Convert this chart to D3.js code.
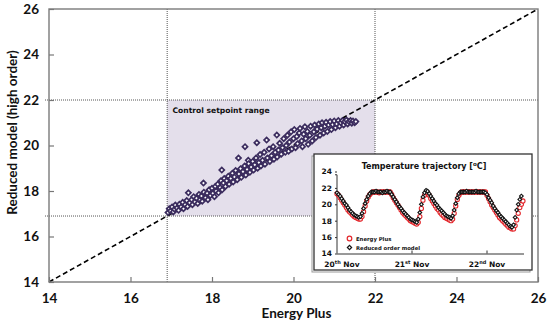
<!DOCTYPE html>
<html><head><meta charset="utf-8">
<script src="https://cdn.jsdelivr.net/npm/d3@7"></script>
<style>
html,body{margin:0;padding:0;background:#fff;}
svg{display:block;}
</style></head>
<body>
<svg id="chart" width="550" height="326"></svg>
<script>
// ---------- data ----------
const axisTicks = [14, 16, 18, 20, 22, 24, 26];
const setpointRange = [16.9, 22];
const xLabel = "Energy Plus";
const yLabel = "Reduced model (high order)";
const regionLabel = "Control setpoint range";

// scatter: Energy Plus (x) vs reduced model (y)
const scatterEnergyPlus = [
 16.92,16.95,16.98,17.02,17.05,17.08,17.10,17.14,17.18,17.20,17.24,17.28,17.30,17.34,17.38,17.42,17.40,17.45,
 17.50,17.52,17.55,17.58,17.62,17.65,17.68,17.70,17.74,17.76,17.79,17.80,17.84,17.88,17.90,17.93,17.96,18.00,18.02,18.06,18.08,18.10,18.14,18.16,18.20,18.22,
 18.24,18.25,18.28,18.30,18.33,18.36,18.40,18.42,18.46,18.50,18.52,18.55,18.58,18.62,18.65,18.66,18.70,18.72,18.76,18.80,18.81,18.83,18.86,18.89,18.90,18.93,18.96,19.00,
 19.02,19.05,19.08,19.10,19.12,19.15,19.18,19.20,19.24,19.28,19.30,19.34,19.36,19.40,19.42,19.46,19.50,19.52,19.55,19.59,19.60,19.63,19.66,19.70,19.73,19.76,19.80,19.82,
 19.85,19.88,19.90,19.94,19.96,20.00,20.02,20.05,20.08,20.10,20.14,20.16,20.20,20.22,20.25,20.28,20.30,20.34,20.36,20.40,20.42,20.46,20.50,20.52,20.55,20.58,
 20.62,20.65,20.68,20.70,20.74,20.77,20.80,20.83,20.86,20.90,20.93,20.96,21.00,21.03,21.06,21.10,21.13,21.16,21.20,21.23,21.26,21.30,21.33,21.36,21.40,21.43,21.46,21.50,21.53
];
const scatterReduced = [
 17.05,17.22,17.12,17.30,17.08,17.20,17.38,17.25,17.15,17.42,17.30,17.50,17.22,17.40,17.58,17.92,17.32,17.48,
 17.62,17.40,17.75,17.52,17.68,17.45,17.85,17.60,17.78,17.55,18.35,17.95,17.70,17.90,17.62,18.05,17.80,18.12,17.90,17.75,18.20,18.00,18.30,17.92,18.15,18.45,
 18.92,18.05,18.35,18.55,18.20,18.45,18.65,18.30,18.55,18.78,18.40,18.62,18.90,18.50,19.45,18.75,18.98,18.60,18.85,19.10,19.95,18.70,18.95,19.35,19.20,18.82,19.05,19.30,
 18.92,19.15,19.45,20.12,19.00,19.25,19.60,19.10,19.35,19.70,19.18,20.24,19.45,19.85,19.30,19.55,19.95,19.40,19.70,20.46,19.50,19.80,20.10,19.62,19.90,20.30,19.70,20.00,
 20.45,19.75,20.15,20.60,19.85,20.30,20.70,19.90,20.40,20.08,20.55,20.75,20.20,19.95,20.50,20.82,20.30,20.62,20.05,20.45,20.85,20.20,20.60,20.90,20.35,20.72,
 20.95,20.45,20.78,21.00,20.55,20.85,21.02,20.62,20.90,21.05,20.70,20.92,21.08,20.78,20.95,21.10,20.85,21.00,21.10,20.90,21.05,21.12,20.95,21.05,21.10,20.98,21.08,21.00,21.05
];

// inset: temperature trajectory, one reading every half hour from 20 Nov 00:00
const stepHours = 0.5;
const dayLabels = [["20","th"],["21","st"],["22","nd"]];
const dayHours = [0, 24, 48];
const insetTicks = [14, 16, 18, 20, 22, 24];
const energyPlusTemp = [
 21.3,21.1,20.8,20.5,20.2,19.9,19.6,19.3,19.1,18.9,18.7,18.5,18.4,18.3,18.2,18.2,
 18.5,19.1,19.8,20.4,20.9,21.2,21.4,
 21.5,21.5,21.5,21.5,21.4,21.5,21.5,21.5,21.5,21.5,21.5,21.5,
 21.2,20.8,20.5,20.2,19.9,19.6,19.3,19.0,18.8,18.6,18.4,18.2,18.0,17.9,17.8,17.7,17.6,
 17.8,18.5,19.5,20.5,21.1,21.4,21.4,
 21.1,20.7,20.4,20.1,19.8,19.5,19.3,19.0,18.8,18.6,18.4,18.3,18.2,18.1,18.0,
 18.2,18.9,19.8,20.6,21.1,21.4,
 21.5,21.5,21.5,21.5,21.5,21.5,21.5,21.5,21.5,21.5,21.5,21.5,21.5,21.5,21.5,21.5,
 21.1,20.7,20.3,19.9,19.6,19.3,19.0,18.7,18.4,18.2,18.0,17.8,17.6,17.4,17.2,17.1,17.0,
 17.0,17.4,18.1,18.9,19.6,20.0,20.4
];
const reducedTemp = [
 21.4,21.2,21.0,20.7,20.4,20.1,19.9,19.6,19.3,19.1,18.9,18.7,18.6,18.5,18.4,
 18.5,18.9,19.5,20.1,20.6,21.0,21.3,21.5,
 21.5,21.5,21.6,21.5,21.5,21.5,21.4,21.5,21.5,21.6,21.5,21.5,
 21.2,20.9,20.6,20.3,20.0,19.7,19.5,19.2,19.0,18.8,18.6,18.4,18.2,18.1,18.0,17.9,17.8,
 18.2,19.0,20.0,20.9,21.4,21.7,21.6,
 21.3,21.0,20.7,20.4,20.1,19.9,19.6,19.4,19.2,19.0,18.8,18.6,18.5,18.4,18.3,
 18.6,19.3,20.1,20.8,21.3,21.5,
 21.5,21.5,21.5,21.6,21.5,21.5,21.5,21.5,21.5,21.6,21.5,21.5,21.5,21.5,21.5,21.4,
 21.2,20.8,20.5,20.2,19.8,19.5,19.2,19.0,18.7,18.5,18.3,18.1,17.9,17.7,17.5,17.3,17.2,
 17.5,18.4,19.3,20.0,20.6,21.0
];
const insetTitle = ["Temperature trajectory [", "o", "C]"];
const legendNames = ["Energy Plus", "Reduced order model"];

// ---------- drawing ----------
const svg = d3.select("#chart");
const purple = "#3b2c5e";
const tickFont = "Lato, 'Liberation Sans', sans-serif";
const insetFont = "'DejaVu Sans', Verdana, sans-serif";

const x = d3.scaleLinear().domain([14, 26]).range([49, 538]);
const y = d3.scaleLinear().domain([14, 26]).range([282, 9]);

// shaded control range
svg.append("rect")
  .attr("x", x(setpointRange[0])).attr("y", y(setpointRange[1]))
  .attr("width", x(setpointRange[1]) - x(setpointRange[0]))
  .attr("height", y(setpointRange[0]) - y(setpointRange[1]))
  .attr("fill", "#e4dfeb");

// dotted guide lines
const guides = svg.append("g").attr("stroke", "#555").attr("stroke-width", 1).attr("stroke-dasharray", "1,1");
setpointRange.forEach(v => {
  guides.append("line").attr("x1", x(v)).attr("x2", x(v)).attr("y1", y(26)).attr("y2", y(14));
  guides.append("line").attr("x1", x(14) - 4).attr("x2", x(26)).attr("y1", y(v)).attr("y2", y(v));
});

svg.append("text").attr("x", x(17.03)).attr("y", 113.3)
  .attr("font-family", insetFont).attr("font-weight", "bold").attr("font-size", 7.6)
  .attr("fill", "#111").text(regionLabel);

// diagonal y = x
svg.append("line")
  .attr("x1", x(14)).attr("y1", y(14)).attr("x2", x(26)).attr("y2", y(26))
  .attr("stroke", "#000").attr("stroke-width", 1.6).attr("stroke-dasharray", "5,3");

// axes
const xAxis = svg.append("g").attr("transform", `translate(0,${y(14)})`)
  .call(d3.axisBottom(x).tickValues(axisTicks).tickSize(-5).tickPadding(11).tickFormat(d3.format("d")));
const yAxis = svg.append("g").attr("transform", `translate(${x(14)},0)`)
  .call(d3.axisLeft(y).tickValues(axisTicks).tickSize(-5).tickPadding(10).tickFormat(d3.format("d")));
[xAxis, yAxis].forEach(g => {
  g.select(".domain").remove();
  g.selectAll(".tick line").attr("stroke", "#777").attr("stroke-width", 1.2);
  g.selectAll(".tick text").attr("font-family", tickFont).attr("font-weight", "bold")
    .attr("font-size", 13.5).attr("fill", "#111");
});
svg.append("rect").attr("x", x(14)).attr("y", y(26))
  .attr("width", x(26) - x(14)).attr("height", y(14) - y(26))
  .attr("fill", "none").attr("stroke", "#7a7a7a").attr("stroke-width", 1.4);

svg.append("text").attr("x", (x(14) + x(26)) / 2 + 3).attr("y", 318)
  .attr("text-anchor", "middle").attr("font-family", tickFont).attr("font-weight", "bold")
  .attr("font-size", 13.5).attr("fill", "#111").text(xLabel);
svg.append("text").attr("transform", `translate(17,${(y(14) + y(26)) / 2 - 13}) rotate(-90)`)
  .attr("text-anchor", "middle").attr("font-family", tickFont).attr("font-weight", "bold")
  .attr("font-size", 13.5).attr("fill", "#111").text(yLabel);

// scatter diamonds
const diamond = d3.symbol().type(d3.symbolSquare).size(13);
svg.append("g").selectAll("path")
  .data(scatterEnergyPlus.map((v, i) => [v, scatterReduced[i]]))
  .join("path")
  .attr("d", diamond)
  .attr("transform", d => `translate(${x(d[0])},${y(d[1])}) rotate(45)`)
  .attr("fill", "#fff").attr("stroke", purple).attr("stroke-width", 1.7);

// ---------- inset ----------
const inset = svg.append("g");
inset.append("rect").attr("x", 312).attr("y", 156).attr("width", 218).attr("height", 116)
  .attr("fill", "#fff").attr("stroke", "#999").attr("stroke-width", 1);
inset.append("rect").attr("x", 314).attr("y", 154).attr("width", 218).attr("height", 116)
  .attr("fill", "#fff").attr("stroke", "#333").attr("stroke-width", 1.3);

const tx = d3.scaleLinear().domain([0, 60]).range([337, 524.5]);
const ty = d3.scaleLinear().domain([14, 24]).range([253.5, 171.5]);

const title = inset.append("text").attr("x", 424).attr("y", 168.5).attr("text-anchor", "middle")
  .attr("font-family", insetFont).attr("font-weight", "bold").attr("font-size", 8).attr("fill", "#111");
title.append("tspan").text(insetTitle[0]);
title.append("tspan").attr("dy", -3).attr("font-size", 5.5).text(insetTitle[1]);
title.append("tspan").attr("dy", 3).text(insetTitle[2]);

const iy = inset.append("g").attr("transform", `translate(${tx(0)},0)`)
  .call(d3.axisLeft(ty).tickValues(insetTicks).tickSize(2).tickPadding(3).tickFormat(d3.format("d")));
iy.select(".domain").attr("d", `M-2,${ty(23.6)}H0V${ty(14)}`).attr("stroke", "#333");
iy.selectAll(".tick line").attr("stroke", "#333");
iy.selectAll(".tick text").attr("font-family", insetFont).attr("font-weight", "bold")
  .attr("font-size", 7.5).attr("fill", "#111");

inset.append("line").attr("x1", tx(0)).attr("x2", 524).attr("y1", ty(14) + 0.5).attr("y2", ty(14) + 0.5)
  .attr("stroke", "#333").attr("stroke-width", 1);
inset.selectAll(".dtick").data(dayHours.slice(1)).join("line")
  .attr("x1", d => tx(d)).attr("x2", d => tx(d)).attr("y1", ty(14)).attr("y2", ty(14) - 3)
  .attr("stroke", "#333");
dayHours.forEach((h, i) => {
  const t = inset.append("text").attr("x", Math.max(tx(h), 342)).attr("y", 267)
    .attr("text-anchor", "middle").attr("font-family", insetFont).attr("font-weight", "bold")
    .attr("font-size", 7.5).attr("fill", "#111");
  t.append("tspan").text(dayLabels[i][0]);
  t.append("tspan").attr("dy", -3).attr("font-size", 5).text(dayLabels[i][1]);
  t.append("tspan").attr("dy", 3).text(" Nov");
});

inset.append("g").selectAll("circle")
  .data(energyPlusTemp).join("circle")
  .attr("cx", (d, i) => tx(i * stepHours)).attr("cy", d => ty(d)).attr("r", 2.1)
  .attr("fill", "#fff").attr("stroke", "#e3262b").attr("stroke-width", 1.1);
const smallDiamond = d3.symbol().type(d3.symbolSquare).size(7);
inset.append("g").selectAll("path")
  .data(reducedTemp).join("path")
  .attr("d", smallDiamond)
  .attr("transform", (d, i) => `translate(${tx(i * stepHours)},${ty(d)}) rotate(45)`)
  .attr("fill", "#fff").attr("stroke", "#111").attr("stroke-width", 1.1);

// legend
inset.append("circle").attr("cx", 349.5).attr("cy", 238.5).attr("r", 2.3)
  .attr("fill", "#fff").attr("stroke", "#e3262b").attr("stroke-width", 1.2);
inset.append("path").attr("d", d3.symbol().type(d3.symbolSquare).size(9))
  .attr("transform", "translate(349.5,247.5) rotate(45)")
  .attr("fill", "#fff").attr("stroke", "#111").attr("stroke-width", 1.2);
legendNames.forEach((n, i) => {
  inset.append("text").attr("x", 356).attr("y", 240.5 + i * 9)
    .attr("font-family", insetFont).attr("font-weight", "bold").attr("font-size", 5.3)
    .attr("fill", "#111").text(n);
});
</script>
</body></html>
